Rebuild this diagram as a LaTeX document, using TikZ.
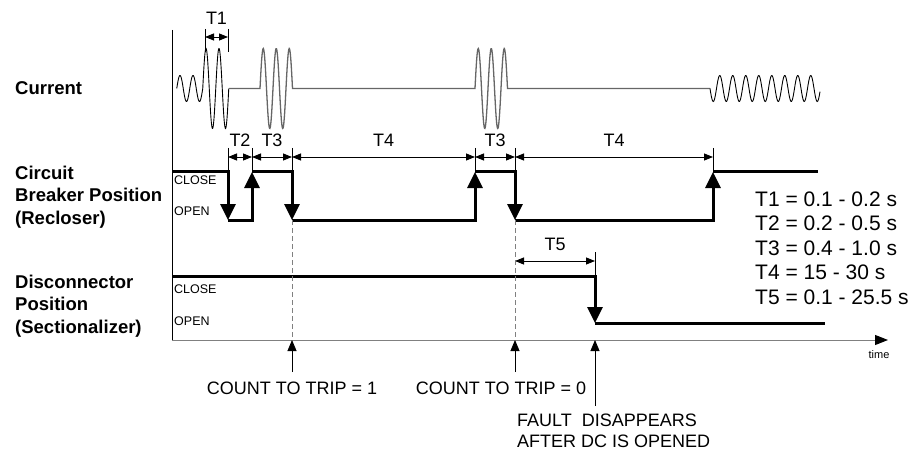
\documentclass[tikz,border=0pt]{standalone}
\usepackage{fontspec}
\setmainfont{Liberation Sans}
\usetikzlibrary{arrows.meta,positioning}

\begin{document}
\begin{tikzpicture}[x=1pt,y=-1pt,>=Latex]
  \tikzstyle{rowlbl}=[font=\fontsize{18.5}{22.5}\selectfont\bfseries,align=left,anchor=west,inner sep=0pt]
  \tikzstyle{note}=[font=\fontsize{18}{21}\selectfont,inner sep=0pt]
  \tikzstyle{lvl}=[font=\fontsize{12.5}{14}\selectfont,anchor=west,inner sep=0pt]
  \tikzstyle{sig}=[line width=3pt]
  \tikzstyle{sw}=[sig,-{Triangle[width=15pt,length=16pt]}]
  \tikzstyle{dim}=[line width=0.8pt,{Triangle[width=7pt,length=9pt]}-{Triangle[width=7pt,length=9pt]}]
  \tikzstyle{tick}=[line width=0.8pt]
  \tikzstyle{guide}=[gray,line width=0.8pt,dash pattern=on 5pt off 3pt]
  \tikzstyle{ptr}=[line width=0.9pt,-{Triangle[width=9pt,length=11pt]}]
  \tikzstyle{wave}=[line width=0.9pt]
  \tikzstyle{fault}=[black!60,line width=1.3pt]

  \useasboundingbox (0,0) rectangle (920,457);

  % time marks and levels
  \foreach \n/\v in {t0/172,t1/205,t2/228,t3/252,t4/292,t5/475,t6/515,t7/595,t8/713,t9/818,t10/825}
    \coordinate (\n) at (\v,0);
  \coordinate (cbc) at (0,172);
  \coordinate (cbo) at (0,220);
  \coordinate (dcc) at (0,276);
  \coordinate (dco) at (0,323);
  \coordinate (org) at (172,340);
  \coordinate (top) at (172,30);
  \coordinate (tend) at (888,340);

  % axes
  \draw[line width=0.9pt] (top) -- (org);
  \draw[gray,line width=1pt,-{Triangle[color=black,width=10pt,length=13pt]}] (org) -- (tend);
  \node[font=\fontsize{11}{12}\selectfont,inner sep=0pt] (tlbl) at (879,355) {time};

  % row labels
  \node[rowlbl] (cur) at (15,88) {Current};
  \node[rowlbl] (cb) at (15,197) {Circuit\\Breaker Position\\(Recloser)};
  \node[rowlbl] (dc) at (15,306) {Disconnector\\Position\\(Sectionalizer)};
  \node[lvl] (cbclose) at (174,180) {CLOSE};
  \node[lvl] (cbopen) at (174,211) {OPEN};
  \node[lvl] (dcclose) at (174,289) {CLOSE};
  \node[lvl] (dcopen) at (174,321) {OPEN};

  % current
  \draw[wave] plot[domain=176.75:202.75,samples=80] (\x,{88.5-13*sin((\x-176.75)/13*360)})
    -- plot[domain=202.75:228.75,samples=80] (\x,{88.5-40*sin((\x-176.75)/13*360)});
  \draw[fault] (228.75,88.5) -- (260,88.5)
    -- plot[domain=260:292.5,samples=80] (\x,{88.5-40*sin((\x-260)/13*360)})
    -- (475,88.5)
    -- plot[domain=475:507.5,samples=80] (\x,{88.5-40*sin((\x-475)/13*360)})
    -- (710,88.5);
  \draw[wave] plot[domain=710:820,samples=240] (\x,{88.5+13*sin((\x-710)/13*360)});

  % recloser
  \draw[sw] (t0|-cbc) -- (t2|-cbc) -- (t2|-cbo);
  \draw[sw] (t2|-cbo) -- (t3|-cbo) -- (t3|-cbc);
  \draw[sw] (t3|-cbc) -- (t4|-cbc) -- (t4|-cbo);
  \draw[sw] (t4|-cbo) -- (t5|-cbo) -- (t5|-cbc);
  \draw[sw] (t5|-cbc) -- (t6|-cbc) -- (t6|-cbo);
  \draw[sw] (t6|-cbo) -- (t8|-cbo) -- (t8|-cbc);
  \draw[sig] (t8|-cbc) -- (t9|-cbc);

  % sectionalizer
  \draw[sw] (t0|-dcc) -- (t7|-dcc) -- (t7|-dco);
  \draw[sig] (t7|-dco) -- (t10|-dco);

  % times
  \draw[tick] (t1|-0,29) -- (t1|-0,52);
  \draw[tick] (t2|-0,29) -- (t2|-0,52);
  \draw[dim] (t1|-0,37) -- node[note,above=12pt] (d1) {T1} (t2|-0,37);
  \foreach \t in {t2,t3,t4,t5,t6,t8}
    \draw[tick] (\t|-0,148) -- (\t|-cbc);
  \foreach \a/\b/\lab in {t2/t3/T2,t3/t4/T3,t4/t5/T4,t5/t6/T3,t6/t8/T4}
    \draw[dim] (\a|-0,157) -- node[note,above=10pt] (d\a) {\lab} (\b|-0,157);
  \draw[tick] (t7|-0,252) -- (t7|-dcc);
  \draw[dim] (t6|-0,261) -- node[note,above=10pt] (d5) {T5} (t7|-0,261);
  \foreach \t in {t4,t6}
    \draw[guide] (\t|-cbo) -- (\t|-org);

  \node[align=left,anchor=west,inner sep=0pt,font=\fontsize{21}{24.5}\selectfont] (tlist) at (755,248)
    {T1 = 0.1 - 0.2 s\\T2 = 0.2 - 0.5 s\\T3 = 0.4 - 1.0 s\\T4 = 15 - 30 s\\T5 = 0.1 - 25.5 s};

  % events
  \node[note] (cnt1) at (292,388) {COUNT TO TRIP = 1};
  \node[note] (cnt0) at (501,388) {COUNT TO TRIP = 0};
  \node[note,align=left,anchor=west] (gone) at (517,431) {FAULT\ \ DISAPPEARS\\AFTER DC IS OPENED};
  \draw[ptr] (t4|-0,372) -- (t4|-org);
  \draw[ptr] (t6|-0,372) -- (t6|-org);
  \draw[ptr] (t7|-0,406) -- (t7|-org);
\end{tikzpicture}
\end{document}
